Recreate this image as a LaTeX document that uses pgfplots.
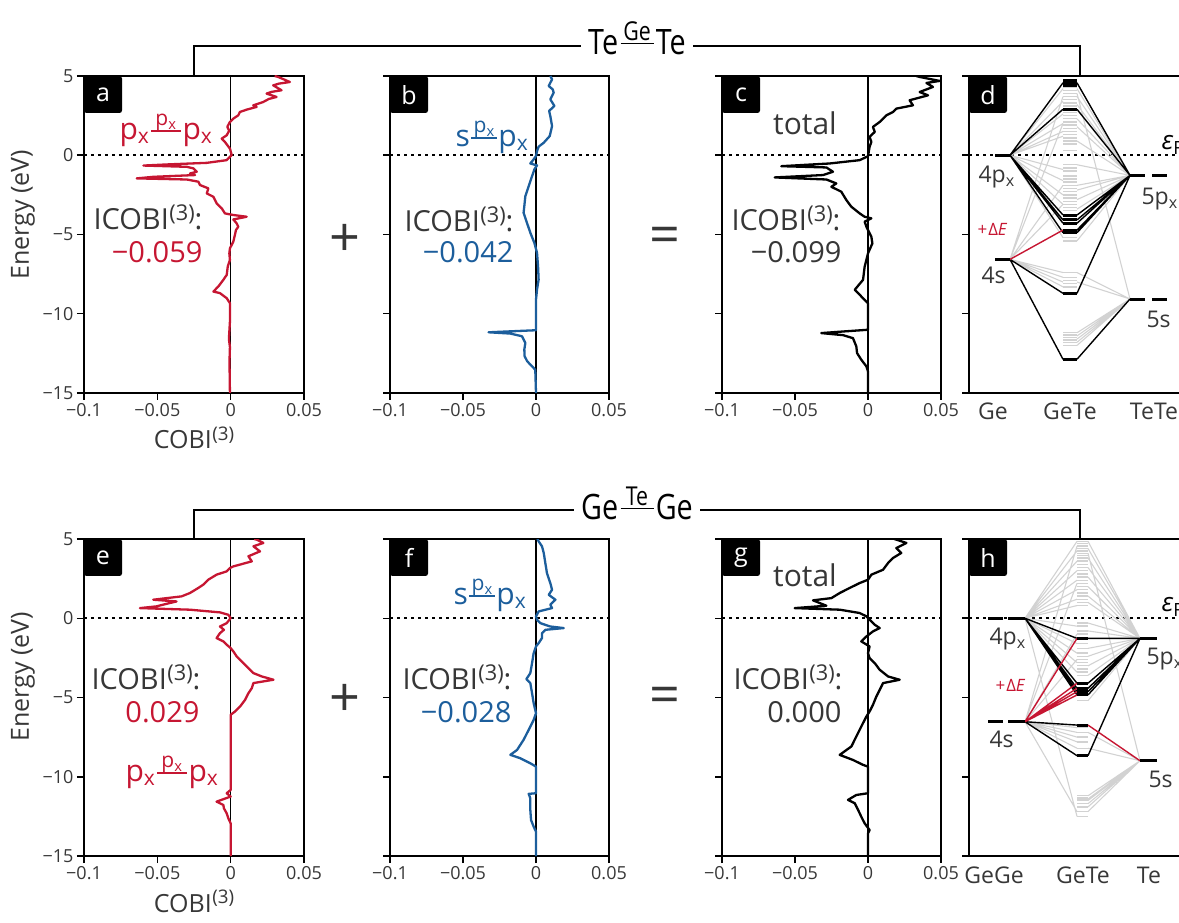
\documentclass[border=0pt]{standalone}
\usepackage{fontspec}
\setmainfont{Open Sans}
\usepackage{pgfplots}
\pgfplotsset{compat=1.18}
\definecolor{txt}{RGB}{55,55,55}
\definecolor{cred}{RGB}{198,22,50}
\definecolor{cblue}{RGB}{28,94,156}
\definecolor{lgray}{RGB}{210,210,210}
\newcommand{\fs}[1]{\fontsize{#1}{#1}\selectfont}
\newcommand{\sub}[1]{\textsubscript{#1}}
\newcommand{\px}{p\sub{x}}
% bond label: left, top, right, rule width
\newcommand{\bond}[4]{#1\kern0.05em\raisebox{0.27em}{\rlap{\raisebox{0.2em}{\makebox[#4]{\fs{21}#2}}}\rule{#4}{0.06em}}\kern0.05em#3}
\newcommand{\tbond}[3]{#1\kern0.08em\raisebox{0.3em}{\rlap{\raisebox{0.12em}{\makebox[1.15em]{\fs{26}#2}}}\rule{1.15em}{0.05em}}\kern0.08em#3}
\newcommand{\supr}[1]{\kern0.02em\raisebox{0.34em}{\scalebox{0.75}{#1}}}
\newcommand{\icobi}{ICOBI\supr{(3)}:}
\pgfplotsset{
  base/.style={scale only axis, height=317pt, ymin=-15, ymax=5, anchor=south west,
    axis line style={line width=1.8pt}, ytick={-15,-10,-5,0,5}, yticklabels={},
    tick align=outside, xtick pos=left, ytick pos=left, major tick length=7pt,
    every tick/.style={line width=1.5pt, black},
    tick label style={font=\fs{18}, text=txt}, clip=true},
  cobi/.style={base, width=220pt, xmin=-0.1, xmax=0.05,
    xtick={-0.1,-0.05,0,0.05}, xticklabels={−0.1,−0.05,0,0.05}},
  mo/.style={base, width=225pt, xmin=0, xmax=225, xtick=\empty},
  zl/.style={black, line width=1.3pt},
  fl/.style={black, line width=1.6pt, dash pattern=on 3pt off 4pt},
  cur/.style={line width=2.3pt, line join=round},
  gl/.style={lgray, line width=1.1pt, unbounded coords=jump},
  glev/.style={lgray, line width=1.4pt, unbounded coords=jump},
  bl/.style={black, line width=1.4pt, unbounded coords=jump},
  blev/.style={black, line width=3pt, unbounded coords=jump},
  rl/.style={cred, line width=1.4pt, unbounded coords=jump},
}
\begin{document}
\begin{tikzpicture}[x=1pt,y=1pt]
% ---------------- brackets & titles
\draw[line width=1.5pt] (194,846) -- (194,876) -- (1080,876) -- (1080,846);
\node[fill=white, inner xsep=7pt, anchor=base, font=\fs{35}] at (637,867) {\scalebox{0.82}[1]{\tbond{Te}{Ge}{Te}}};
\draw[line width=1.5pt] (194,383) -- (194,412) -- (1080,412) -- (1080,383);
\node[fill=white, inner xsep=7pt, anchor=base, font=\fs{35}] at (637,402) {\scalebox{0.82}[1]{\tbond{Ge}{Te}{Ge}}};

% ================= panel a
\begin{axis}[cobi, at={(84pt,529pt)}, yticklabels={−15,−10,−5,0,5}]
\addplot[zl] coordinates {(0,-15)(0,5)};
\addplot[fl] coordinates {(-0.1,0)(0.05,0)};
\addplot[cur, cred] coordinates {
(0.030,5.0)(0.0324,4.94)(0.0404,4.62)(0.0330,4.52)(0.0290,4.41)(0.0347,4.10)(0.0280,4.00)(0.0245,3.89)(0.0313,3.68)
(0.0260,3.55)(0.0222,3.36)(0.0154,3.15)(0.0177,3.05)(0.0110,2.88)(0.0063,2.73)(0.0052,2.52)(0.0018,2.31)(-0.0005,2.10)
(-0.0023,1.79)(-0.0010,1.55)(-0.0027,1.26)(-0.0061,1.05)(-0.0039,0.84)(-0.0005,0.42)(0.0007,0.01)
(-0.0027,-0.31)(-0.0163,-0.48)(-0.0435,-0.58)(-0.0595,-0.65)(-0.0299,-0.73)(-0.0254,-0.83)
(-0.0231,-1.04)(-0.0277,-1.15)(-0.0243,-1.25)(-0.0526,-1.36)(-0.0640,-1.46)(-0.0299,-1.53)
(-0.0220,-1.67)(-0.0209,-1.88)(-0.0152,-2.09)(-0.0163,-2.41)(-0.0118,-2.62)(-0.0095,-3.04)
(-0.0061,-3.35)(-0.0039,-3.67)(0.0018,-3.77)(0.0109,-3.88)(0.0018,-4.05)(0.0041,-4.30)
(0.0052,-4.51)(0.0036,-4.72)(0.0029,-5.03)(0.0018,-5.45)(-0.0005,-5.87)(-0.0009,-6.19)
(-0.0005,-6.61)(-0.0020,-7.03)(-0.0027,-7.55)(-0.0050,-7.86)(-0.0084,-8.28)(-0.0118,-8.60)
(-0.0073,-8.70)(-0.0027,-9.02)(-0.0005,-9.33)(-0.0005,-10.5)(-0.0012,-11.6)(-0.0005,-12.1)
(-0.0008,-13.0)(-0.0005,-15)};
\end{axis}

% ================= panel b
\begin{axis}[cobi, at={(390pt,529pt)}, width=219pt]
\addplot[zl] coordinates {(0,-15)(0,5)};
\addplot[fl] coordinates {(-0.1,0)(0.05,0)};
\addplot[cur, cblue] coordinates {
(0.0098,5.0)(0.0110,4.79)(0.0087,4.37)(0.0115,4.15)(0.0121,3.95)(0.0098,3.53)(0.0126,3.11)
(0.0090,2.80)(0.0098,2.47)(0.0110,1.84)(0.0094,1.21)(0.0053,0.79)(0.0018,0.54)(0.0007,0.26)
(0,-0.05)(-0.0016,-0.26)(-0.0039,-0.52)(0.0007,-0.64)(-0.0011,-0.89)(-0.0027,-1.32)
(-0.0050,-1.95)(-0.0073,-2.58)(-0.0080,-3.21)(-0.0085,-3.63)(-0.0062,-4.26)(-0.0039,-4.89)
(-0.0011,-5.53)(0.0007,-6.16)(0.0014,-7.0)(0.0018,-7.84)(0.0007,-8.47)(0,-9.11)(0,-11.04)
(-0.0176,-11.11)(-0.0325,-11.17)(-0.0176,-11.25)(-0.0096,-11.42)(-0.0073,-11.84)
(-0.0080,-12.26)(-0.0078,-12.68)(-0.0060,-13.0)(-0.0027,-13.32)(-0.0005,-13.53)(0,-15)};
\end{axis}

% ================= panel c
\begin{axis}[cobi, at={(722pt,529pt)}, width=219pt]
\addplot[zl] coordinates {(0,-15)(0,5)};
\addplot[fl] coordinates {(-0.1,0)(0.05,0)};
\addplot[cur, black] coordinates {
(0.033,5.0)(0.0354,4.94)(0.0491,4.69)(0.0400,4.56)(0.0445,4.31)(0.0354,3.99)(0.0411,3.78)
(0.0285,3.47)(0.0308,3.15)(0.0194,2.94)(0.0171,2.73)(0.0126,2.52)(0.0080,2.10)(0.0034,1.79)
(0.0046,1.47)(0.0011,1.16)(0.0023,0.84)(0.0011,0.53)(0,-0.06)(-0.0057,-0.31)(-0.0263,-0.52)
(-0.0594,-0.69)(-0.0285,-0.77)(-0.0240,-1.04)(-0.0308,-1.25)(-0.0639,-1.40)(-0.0285,-1.53)
(-0.0217,-1.78)(-0.0251,-1.99)(-0.0183,-2.30)(-0.0148,-2.83)(-0.0114,-3.25)(-0.0057,-3.67)
(-0.0023,-3.88)(0.0023,-3.98)(-0.0023,-4.19)(-0.0011,-4.51)(0.0023,-5.14)(0.0030,-5.56)
(0,-6.19)(-0.0023,-7.03)(-0.0034,-7.86)(-0.0091,-8.49)(-0.0068,-8.70)(-0.0034,-9.02)(0,-9.33)
(0,-11.01)(-0.0171,-11.12)(-0.0320,-11.22)(-0.0171,-11.35)(-0.0103,-11.54)(-0.0080,-12.06)
(-0.0075,-12.48)(-0.0046,-12.90)(-0.0011,-13.32)(0,-13.64)(0,-15)};
\end{axis}

% ================= panel d
\begin{axis}[mo, at={(969pt,529pt)}]
\addplot[fl] coordinates {(0,0)(225,0)};
\addplot[gl] coordinates {
(41,0)(94,4.2) (nan,nan) (41,0)(94,3.4) (nan,nan) (41,0)(94,2.6) (nan,nan) (41,0)(94,2.0) (nan,nan)
(41,0)(94,1.5) (nan,nan) (41,0)(94,1.2) (nan,nan) (41,0)(94,-0.9) (nan,nan) (41,0)(94,-1.6) (nan,nan)
(41,0)(94,-2.5) (nan,nan) (41,0)(94,-3.1) (nan,nan) (41,0)(94,-5.2) (nan,nan)
(108,4.2)(161,-1.27) (nan,nan) (108,3.7)(161,-1.27) (nan,nan) (108,3.2)(161,-1.27) (nan,nan)
(108,2.3)(161,-1.27) (nan,nan) (108,1.8)(161,-1.27) (nan,nan) (108,0.9)(161,-1.27) (nan,nan)
(108,-0.6)(161,-1.27) (nan,nan) (108,-1.9)(161,-1.27) (nan,nan) (108,-2.2)(161,-1.27) (nan,nan)
(108,-2.8)(161,-1.27) (nan,nan) (108,-3.4)(161,-1.27) (nan,nan) (108,-5.4)(161,-1.27) (nan,nan)
(41,-6.57)(94,3.7) (nan,nan) (41,-6.57)(94,2.0) (nan,nan) (41,-6.57)(94,-1.9) (nan,nan)
(41,-6.57)(94,-3.1) (nan,nan) (41,-6.57)(94,-7.4) (nan,nan) (41,-6.57)(94,-7.7) (nan,nan)
(41,-6.57)(94,-8.0) (nan,nan) (41,-6.57)(94,-8.3) (nan,nan)
(108,3.9)(161,-9.07) (nan,nan) (108,-7.4)(161,-9.07) (nan,nan) (108,-8.0)(161,-9.07) (nan,nan)
(108,-11.2)(161,-9.07) (nan,nan) (108,-11.4)(161,-9.07) (nan,nan) (108,-11.6)(161,-9.07) (nan,nan)
(108,-11.8)(161,-9.07) (nan,nan) (108,-12.0)(161,-9.07)};
\addplot[glev] coordinates {
(94,4.3)(108,4.3) (nan,nan) (94,4.1)(108,4.1) (nan,nan) (94,3.9)(108,3.9) (nan,nan) (94,3.7)(108,3.7) (nan,nan)
(94,3.5)(108,3.5) (nan,nan) (94,3.3)(108,3.3) (nan,nan) (94,3.1)(108,3.1) (nan,nan) (94,2.7)(108,2.7) (nan,nan)
(94,2.5)(108,2.5) (nan,nan) (94,2.3)(108,2.3) (nan,nan) (94,2.1)(108,2.1) (nan,nan) (94,1.9)(108,1.9) (nan,nan)
(94,1.7)(108,1.7) (nan,nan) (94,1.5)(108,1.5) (nan,nan) (94,1.3)(108,1.3) (nan,nan) (94,1.1)(108,1.1) (nan,nan)
(94,0.9)(108,0.9) (nan,nan) (94,0.7)(108,0.7) (nan,nan) (94,0.3)(108,0.3) (nan,nan) (94,-0.6)(108,-0.6) (nan,nan)
(94,-0.8)(108,-0.8) (nan,nan) (94,-1.0)(108,-1.0) (nan,nan) (94,-1.3)(108,-1.3) (nan,nan) (94,-1.5)(108,-1.5) (nan,nan)
(94,-1.7)(108,-1.7) (nan,nan) (94,-1.9)(108,-1.9) (nan,nan) (94,-2.1)(108,-2.1) (nan,nan) (94,-2.3)(108,-2.3) (nan,nan)
(94,-2.5)(108,-2.5) (nan,nan) (94,-2.7)(108,-2.7) (nan,nan) (94,-2.9)(108,-2.9) (nan,nan) (94,-3.1)(108,-3.1) (nan,nan)
(94,-3.3)(108,-3.3) (nan,nan) (94,-3.5)(108,-3.5) (nan,nan) (94,-5.2)(108,-5.2) (nan,nan) (94,-5.4)(108,-5.4) (nan,nan)
(94,-7.4)(108,-7.4) (nan,nan) (94,-7.7)(108,-7.7) (nan,nan) (94,-7.9)(108,-7.9) (nan,nan) (94,-8.1)(108,-8.1) (nan,nan)
(94,-8.3)(108,-8.3) (nan,nan) (94,-11.2)(108,-11.2) (nan,nan) (94,-11.35)(108,-11.35) (nan,nan)
(94,-11.5)(108,-11.5) (nan,nan) (94,-11.65)(108,-11.65) (nan,nan) (94,-11.8)(108,-11.8) (nan,nan)
(94,-12.0)(108,-12.0)};
\addplot[bl] coordinates {
(41,0)(94,4.57) (nan,nan) (41,0)(94,2.9) (nan,nan) (41,0)(94,-3.77) (nan,nan) (41,0)(94,-4.08) (nan,nan)
(41,0)(94,-4.29) (nan,nan) (41,0)(94,-4.89) (nan,nan)
(108,4.57)(161,-1.27) (nan,nan) (108,2.9)(161,-1.27) (nan,nan) (108,-3.77)(161,-1.27) (nan,nan)
(108,-4.08)(161,-1.27) (nan,nan) (108,-4.29)(161,-1.27) (nan,nan) (108,-4.72)(161,-1.27) (nan,nan)
(108,-4.89)(161,-1.27) (nan,nan)
(41,-6.57)(94,-8.71) (nan,nan) (41,-6.57)(94,-12.87) (nan,nan)
(108,-8.71)(161,-1.27) (nan,nan) (108,-12.87)(161,-9.07)};
\addplot[rl] coordinates {(41,-6.57)(94,-4.72)};
\addplot[blev] coordinates {
(26,0)(41,0) (nan,nan) (26,-6.57)(41,-6.57) (nan,nan)
(161,-1.27)(176,-1.27) (nan,nan) (183,-1.27)(198,-1.27) (nan,nan)
(161,-9.07)(176,-9.07) (nan,nan) (183,-9.07)(198,-9.07) (nan,nan)
(94,4.7)(108,4.7) (nan,nan) (94,4.57)(108,4.57) (nan,nan) (94,4.43)(108,4.43) (nan,nan)
(94,2.9)(108,2.9) (nan,nan) (94,-3.77)(108,-3.77) (nan,nan) (94,-4.08)(108,-4.08) (nan,nan)
(94,-4.29)(108,-4.29) (nan,nan) (94,-4.72)(108,-4.72) (nan,nan) (94,-4.89)(108,-4.89) (nan,nan)
(94,-8.71)(108,-8.71) (nan,nan) (94,-12.87)(108,-12.87)};
\end{axis}

% ================= panel e
\begin{axis}[cobi, at={(84pt,66pt)}, yticklabels={−15,−10,−5,0,5}]
\addplot[zl] coordinates {(0,-15)(0,5)};
\addplot[fl] coordinates {(-0.1,0)(0.05,0)};
\addplot[cur, cred] coordinates {
(0.016,5.0)(0.0178,4.96)(0.0223,4.75)(0.0155,4.54)(0.0200,4.22)(0.0121,3.91)(0.0144,3.59)
(0.0018,3.27)(-0.0005,3.17)(-0.0027,2.96)(-0.0096,2.75)(-0.0153,2.43)(-0.0187,2.12)
(-0.0221,1.91)(-0.0278,1.59)(-0.0335,1.38)(-0.0528,1.17)(-0.0369,1.06)(-0.0415,0.96)
(-0.0506,0.75)(-0.0619,0.64)(-0.0278,0.54)(-0.0073,0.37)(-0.0016,0.22)(0,0.01)(-0.0027,-0.31)
(-0.0073,-0.52)(-0.0046,-0.73)(-0.0073,-0.94)(-0.0096,-1.25)(-0.0050,-1.46)(-0.0027,-1.67)
(0,-1.88)(0.0018,-2.09)(0.0041,-2.41)(0.0064,-2.62)(0.0109,-3.04)(0.0155,-3.46)(0.0212,-3.67)
(0.0292,-3.88)(0.0155,-4.09)(0.0144,-4.41)(0.0121,-4.73)(0.0098,-5.15)(0.0064,-5.57)
(0.0030,-5.88)(0,-6.09)(0,-10.83)(-0.0027,-11.04)(0,-11.25)(-0.0096,-11.57)(-0.0050,-11.78)
(-0.0046,-11.99)(-0.0027,-12.31)(-0.0016,-12.62)(0,-12.94)(0,-15)};
\end{axis}

% ================= panel f
\begin{axis}[cobi, at={(390pt,66pt)}, width=219pt]
\addplot[zl] coordinates {(0,-15)(0,5)};
\addplot[fl] coordinates {(-0.1,0)(0.05,0)};
\addplot[cur, cblue] coordinates {
(0.0010,5.0)(0.0018,4.85)(0.0041,4.54)(0.0053,4.12)(0.0064,3.48)(0.0075,2.85)(0.0098,2.22)
(0.0110,1.80)(0.0087,1.48)(0.0133,1.17)(0.0098,0.85)(0.0110,0.64)(0.0018,0.43)(0,0.12)
(0.0007,-0.09)(0.0030,-0.31)(0.0098,-0.52)(0.0190,-0.62)(0.0064,-0.73)(0.0041,-0.94)
(0.0041,-1.25)(0.0018,-1.57)(0,-1.78)(-0.0016,-2.20)(-0.0027,-2.83)(-0.0039,-3.46)
(-0.0066,-3.84)(-0.0039,-4.09)(-0.0027,-4.73)(-0.0016,-5.36)(0,-5.99)(-0.0016,-6.41)
(-0.0050,-7.04)(-0.0085,-7.67)(-0.0130,-8.31)(-0.0176,-8.62)(-0.0108,-8.83)(-0.0039,-9.15)
(0,-9.36)(0,-11.04)(-0.0050,-11.08)(-0.0039,-11.36)(-0.0039,-12.09)(-0.0034,-12.73)
(-0.0016,-13.15)(0,-13.46)(0,-15)};
\end{axis}

% ================= panel g
\begin{axis}[cobi, at={(722pt,66pt)}, width=219pt]
\addplot[zl] coordinates {(0,-15)(0,5)};
\addplot[fl] coordinates {(-0.1,0)(0.05,0)};
\addplot[cur, black] coordinates {
(0.018,5.0)(0.0194,4.96)(0.0263,4.75)(0.0194,4.43)(0.0228,4.12)(0.0171,3.80)(0.0137,3.48)
(0.0103,3.06)(0.0023,2.75)(0,2.43)(-0.0057,2.22)(-0.0126,1.91)(-0.0194,1.59)(-0.0251,1.27)
(-0.0377,1.13)(-0.0331,0.96)(-0.0285,0.79)(-0.0502,0.64)(-0.0194,0.54)(-0.0057,0.33)
(-0.0011,0.12)(0.0011,-0.09)(0.0046,-0.41)(0.0080,-0.62)(0.0034,-0.83)(-0.0011,-1.15)
(-0.0046,-1.46)(0.0011,-1.78)(0,-2.20)(0.0011,-2.52)(0.0046,-2.83)(0.0080,-3.25)
(0.0137,-3.67)(0.0217,-3.88)(0.0103,-4.09)(0.0080,-4.52)(0.0057,-4.94)(0.0034,-5.46)
(0.0011,-5.88)(-0.0011,-6.20)(-0.0046,-6.83)(-0.0080,-7.46)(-0.0114,-8.09)(-0.0194,-8.62)
(-0.0103,-8.94)(-0.0034,-9.25)(0,-9.36)(0,-11.04)(-0.0080,-11.15)(-0.0137,-11.46)
(-0.0091,-11.67)(-0.0068,-12.09)(-0.0046,-12.52)(-0.0023,-12.94)(0.0011,-13.36)(0,-13.57)(0,-15)};
\end{axis}

% ================= panel h
\begin{axis}[mo, at={(969pt,66pt)}]
\addplot[fl] coordinates {(0,0)(225,0)};
\addplot[gl] coordinates {
(56,0)(108,4.85) (nan,nan) (56,0)(108,4.25) (nan,nan) (56,0)(108,3.6) (nan,nan) (56,0)(108,3.0) (nan,nan)
(56,0)(108,2.4) (nan,nan) (56,0)(108,1.8) (nan,nan) (56,0)(108,1.2) (nan,nan) (56,0)(108,0.8) (nan,nan)
(56,0)(108,-0.5) (nan,nan) (56,0)(108,-1.6) (nan,nan) (56,0)(108,-2.2) (nan,nan) (56,0)(108,-2.8) (nan,nan)
(56,0)(108,-3.4) (nan,nan) (56,0)(108,-12.5) (nan,nan)
(119,4.85)(171,-1.27) (nan,nan) (119,4.4)(171,-1.27) (nan,nan) (119,3.8)(171,-1.27) (nan,nan)
(119,3.2)(171,-1.27) (nan,nan) (119,2.6)(171,-1.27) (nan,nan) (119,2.0)(171,-1.27) (nan,nan)
(119,1.4)(171,-1.27) (nan,nan) (119,1.0)(171,-1.27) (nan,nan) (119,-0.3)(171,-1.27) (nan,nan)
(119,-0.8)(171,-1.27) (nan,nan) (119,-1.9)(171,-1.27) (nan,nan) (119,-2.4)(171,-1.27) (nan,nan)
(119,-3.0)(171,-1.27) (nan,nan) (119,-3.6)(171,-1.27) (nan,nan) (119,-5.2)(171,-1.27) (nan,nan)
(56,-6.53)(108,4.55) (nan,nan) (56,-6.53)(108,2.2) (nan,nan) (56,-6.53)(108,-1.0) (nan,nan)
(56,-6.53)(108,-2.6) (nan,nan) (56,-6.53)(108,-6.9) (nan,nan) (56,-6.53)(108,-7.2) (nan,nan)
(56,-6.53)(108,-7.5) (nan,nan) (56,-6.53)(108,-7.8) (nan,nan) (56,-6.53)(108,-8.2) (nan,nan)
(56,-6.53)(108,-12.2) (nan,nan)
(119,4.1)(171,-8.99) (nan,nan) (119,-7.2)(171,-8.99) (nan,nan) (119,-8.2)(171,-8.99) (nan,nan)
(119,-11.2)(171,-8.99) (nan,nan) (119,-11.4)(171,-8.99) (nan,nan) (119,-11.5)(171,-8.99) (nan,nan)
(119,-11.7)(171,-8.99) (nan,nan) (119,-11.9)(171,-8.99) (nan,nan) (119,-12.2)(171,-8.99)};
\addplot[glev] coordinates {
(108,4.85)(119,4.85) (nan,nan) (108,4.7)(119,4.7) (nan,nan) (108,4.55)(119,4.55) (nan,nan) (108,4.4)(119,4.4) (nan,nan)
(108,4.25)(119,4.25) (nan,nan) (108,4.1)(119,4.1) (nan,nan) (108,3.95)(119,3.95) (nan,nan) (108,3.8)(119,3.8) (nan,nan)
(108,3.6)(119,3.6) (nan,nan) (108,3.4)(119,3.4) (nan,nan) (108,3.2)(119,3.2) (nan,nan) (108,3.0)(119,3.0) (nan,nan)
(108,2.8)(119,2.8) (nan,nan) (108,2.6)(119,2.6) (nan,nan) (108,2.4)(119,2.4) (nan,nan) (108,2.2)(119,2.2) (nan,nan)
(108,2.0)(119,2.0) (nan,nan) (108,1.8)(119,1.8) (nan,nan) (108,1.6)(119,1.6) (nan,nan) (108,1.4)(119,1.4) (nan,nan)
(108,1.2)(119,1.2) (nan,nan) (108,1.0)(119,1.0) (nan,nan) (108,0.8)(119,0.8) (nan,nan) (108,-0.3)(119,-0.3) (nan,nan)
(108,-0.5)(119,-0.5) (nan,nan) (108,-0.8)(119,-0.8) (nan,nan) (108,-1.0)(119,-1.0) (nan,nan) (108,-1.6)(119,-1.6) (nan,nan)
(108,-1.9)(119,-1.9) (nan,nan) (108,-2.2)(119,-2.2) (nan,nan) (108,-2.4)(119,-2.4) (nan,nan) (108,-2.6)(119,-2.6) (nan,nan)
(108,-2.8)(119,-2.8) (nan,nan) (108,-3.0)(119,-3.0) (nan,nan) (108,-3.2)(119,-3.2) (nan,nan) (108,-3.4)(119,-3.4) (nan,nan)
(108,-3.6)(119,-3.6) (nan,nan) (108,-5.2)(119,-5.2) (nan,nan) (108,-6.9)(119,-6.9) (nan,nan) (108,-7.2)(119,-7.2) (nan,nan)
(108,-7.5)(119,-7.5) (nan,nan) (108,-7.8)(119,-7.8) (nan,nan) (108,-8.2)(119,-8.2) (nan,nan)
(108,-11.2)(119,-11.2) (nan,nan) (108,-11.3)(119,-11.3) (nan,nan) (108,-11.4)(119,-11.4) (nan,nan)
(108,-11.5)(119,-11.5) (nan,nan) (108,-11.7)(119,-11.7) (nan,nan) (108,-11.9)(119,-11.9) (nan,nan)
(108,-12.2)(119,-12.2) (nan,nan) (108,-12.5)(119,-12.5)};
\addplot[bl] coordinates {
(56,0)(108,-1.27) (nan,nan) (56,0)(108,-4.1) (nan,nan) (56,0)(108,-4.42) (nan,nan) (56,0)(108,-4.63) (nan,nan)
(56,0)(108,-4.84) (nan,nan)
(119,-1.27)(171,-1.27) (nan,nan) (119,-4.1)(171,-1.27) (nan,nan) (119,-4.42)(171,-1.27) (nan,nan)
(119,-4.63)(171,-1.27) (nan,nan) (119,-4.84)(171,-1.27) (nan,nan)
(56,-6.53)(108,-6.74) (nan,nan) (56,-6.53)(108,-8.67) (nan,nan) (119,-8.67)(171,-1.27)};
\addplot[rl] coordinates {
(56,-6.53)(108,-1.27) (nan,nan) (56,-6.53)(108,-4.1) (nan,nan) (56,-6.53)(108,-4.42) (nan,nan)
(56,-6.53)(108,-4.63) (nan,nan) (56,-6.53)(108,-4.84) (nan,nan) (119,-6.74)(171,-8.99)};
\addplot[blev] coordinates {
(19,0)(34,0) (nan,nan) (39,0)(56,0) (nan,nan) (19,-6.53)(34,-6.53) (nan,nan) (39,-6.53)(56,-6.53) (nan,nan)
(171,-1.27)(188,-1.27) (nan,nan) (171,-8.99)(188,-8.99) (nan,nan)
(108,-1.27)(119,-1.27) (nan,nan) (108,-4.1)(119,-4.1) (nan,nan) (108,-4.42)(119,-4.42) (nan,nan)
(108,-4.63)(119,-4.63) (nan,nan) (108,-4.84)(119,-4.84) (nan,nan) (108,-6.74)(119,-6.74) (nan,nan)
(108,-8.67)(119,-8.67)};
\end{axis}

% ---------------- panel letters
\foreach \x/\y/\l in {84/846/a,390/846/b,722/846/c,969/846/d,84/383/e,390/383/f,722/383/g,969/383/h}{
  \fill[black, rounded corners=2.5pt] (\x,\y) rectangle ++(38,-37);
  \node[text=white, font=\fs{25}, anchor=center] at (\x+19,\y-19) {\l};
}

% ---------------- axis labels
\node[rotate=90, font=\fs{25}, text=txt] at (23,707) {Energy (eV)};
\node[rotate=90, font=\fs{25}, text=txt] at (23,245) {Energy (eV)};
\node[font=\fs{25}, text=txt, anchor=base] at (194,473) {COBI\supr{(3)}};
\node[font=\fs{25}, text=txt, anchor=base] at (194,10) {COBI\supr{(3)}};
\foreach \x/\t in {993/Ge,1070/GeTe,1154/TeTe}{\node[font=\fs{23}, text=txt, anchor=base] at (\x,502) {\t};}
\foreach \x/\t in {994/GeGe,1083/GeTe,1149/Te}{\node[font=\fs{23}, text=txt, anchor=base] at (\x,39) {\t};}

% ---------------- operators
\node[font=\fs{54}, text=txt] at (345,682) {+};
\node[font=\fs{54}, text=txt] at (665,682) {=};
\node[font=\fs{54}, text=txt] at (345,222) {+};
\node[font=\fs{54}, text=txt] at (665,222) {=};

% ---------------- panel texts (top)
\node[anchor=base, font=\fs{30}, text=cred] at (166,782) {\bond{\px}{\px}{\px}{1em}};
\node[anchor=base, font=\fs{29}, text=txt] at (148,692) {\icobi};
\node[anchor=base east, font=\fs{29}, text=cred] at (206,659) {−0.059};
\node[anchor=base, font=\fs{30}, text=cblue] at (492,775) {\bond{s}{\px}{\px}{0.85em}};
\node[anchor=base, font=\fs{29}, text=txt] at (459,690) {\icobi};
\node[anchor=base east, font=\fs{29}, text=cblue] at (517,659) {−0.042};
\node[anchor=base, font=\fs{30}, text=txt] at (805,787) {total};
\node[anchor=base, font=\fs{29}, text=txt] at (786,691) {\icobi};
\node[anchor=base east, font=\fs{29}, text=txt] at (845,659) {−0.099};
% ---------------- panel texts (bottom)
\node[anchor=base, font=\fs{29}, text=txt] at (146,232) {\icobi};
\node[anchor=base east, font=\fs{29}, text=cred] at (203,199) {0.029};
\node[anchor=base, font=\fs{30}, text=cred] at (172,140) {\bond{\px}{\px}{\px}{1em}};
\node[anchor=base, font=\fs{30}, text=cblue] at (490,317) {\bond{s}{\px}{\px}{0.85em}};
\node[anchor=base, font=\fs{29}, text=txt] at (457,232) {\icobi};
\node[anchor=base east, font=\fs{29}, text=cblue] at (515,199) {−0.028};
\node[anchor=base, font=\fs{30}, text=txt] at (805,335) {total};
\node[anchor=base, font=\fs{29}, text=txt] at (788,232) {\icobi};
\node[anchor=base east, font=\fs{29}, text=txt] at (845,199) {0.000};

% ---------------- MO labels
\node[anchor=base west, font=\fs{23}, text=txt] at (975,739) {4\px};
\node[anchor=base west, font=\fs{17}, text=cred] at (974,686) {+\kern1pt Δ\textit{E}};
\node[anchor=base west, font=\fs{23}, text=txt] at (978,638) {4s};
\node[anchor=base west, font=\fs{23}, text=txt] at (1138,717) {5\px};
\node[anchor=base west, font=\fs{23}, text=txt] at (1143,594) {5s};
\node[anchor=base west, font=\fs{26}, text=black] at (1158,772) {\textit{ε}\sub{F}};
\node[anchor=base west, font=\fs{23}, text=txt] at (986,277) {4\px};
\node[anchor=base west, font=\fs{17}, text=cred] at (992,230) {+\kern1pt Δ\textit{E}};
\node[anchor=base west, font=\fs{23}, text=txt] at (986,174) {4s};
\node[anchor=base west, font=\fs{23}, text=txt] at (1143,257) {5\px};
\node[anchor=base west, font=\fs{23}, text=txt] at (1145,135) {5s};
\node[anchor=base west, font=\fs{26}, text=black] at (1158,310) {\textit{ε}\sub{F}};

\pgfresetboundingbox
\path[use as bounding box] (0,0) rectangle (1179,922);
\end{tikzpicture}
\end{document}
